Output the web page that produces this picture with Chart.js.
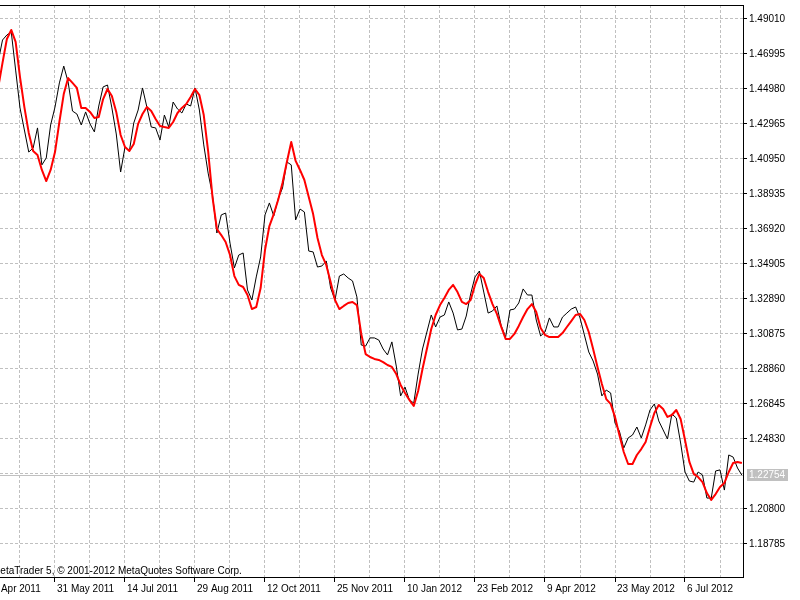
<!DOCTYPE html>
<html>
<head>
<meta charset="utf-8">
<style>
  html, body { margin: 0; padding: 0; background: #fff; }
  canvas { display: block; }
</style>
<script src="https://cdn.jsdelivr.net/npm/chart.js@4.4.1/dist/chart.umd.min.js"></script>
</head>
<body>
<canvas id="chart" width="800" height="600"></canvas>
<script>
// ---- data: daily bars, x = bar index (bar 0 sits on the first vertical grid line) ----
const FIRST_BAR = -10;
const BAR_STEP = 2;

// close price (black line), one value every 2 bars
const closePrices = [
  1.4654, 1.4780, 1.4809, 1.4826, 1.4607, 1.4389, 1.4262, 1.4135, 1.4158, 1.4274,
  1.4061, 1.4101, 1.4291, 1.4394, 1.4533, 1.4630, 1.4538, 1.4371, 1.4354, 1.4291,
  1.4366, 1.4297, 1.4251, 1.4400, 1.4510, 1.4521, 1.4389, 1.4239, 1.4020, 1.4164,
  1.4141, 1.4302, 1.4377, 1.4504, 1.4394, 1.4279, 1.4274, 1.4204, 1.4348, 1.4279,
  1.4423, 1.4383, 1.4360, 1.4412, 1.4400, 1.4504, 1.4377, 1.4176, 1.4014, 1.3888,
  1.3669, 1.3773, 1.3784, 1.3611, 1.3468, 1.3542, 1.3554, 1.3341, 1.3283, 1.3416,
  1.3531, 1.3773, 1.3842, 1.3767, 1.3865, 1.3928, 1.4078, 1.4061, 1.3744, 1.3807,
  1.3790, 1.3565, 1.3560, 1.3473, 1.3479, 1.3508, 1.3352, 1.3283, 1.3421, 1.3433,
  1.3410, 1.3393, 1.3301, 1.3024, 1.3018, 1.3065, 1.3065, 1.3053, 1.3001, 1.2967,
  1.3042, 1.2903, 1.2731, 1.2782, 1.2708, 1.2690, 1.2857, 1.3001, 1.3099, 1.3197,
  1.3128, 1.3185, 1.3197, 1.3272, 1.3208, 1.3111, 1.3116, 1.3191, 1.3318, 1.3416,
  1.3450, 1.3329, 1.3208, 1.3220, 1.3249, 1.3134, 1.3070, 1.3226, 1.3231, 1.3266,
  1.3347, 1.3312, 1.3312, 1.3168, 1.3076, 1.3099, 1.3180, 1.3128, 1.3128, 1.3185,
  1.3208, 1.3231, 1.3243, 1.3180, 1.3082, 1.2984, 1.2932, 1.2857, 1.2731, 1.2765,
  1.2748, 1.2575, 1.2529, 1.2431, 1.2489, 1.2506, 1.2552, 1.2489, 1.2564, 1.2650,
  1.2685, 1.2587, 1.2535, 1.2483, 1.2627, 1.2604, 1.2460, 1.2293, 1.2241, 1.2235,
  1.2293, 1.2276, 1.2143, 1.2143, 1.2299, 1.2305, 1.2189, 1.2391, 1.2379, 1.2316,
  1.2275
];

// moving average (red line), same bars
const maPrices = [
  1.4504, 1.4648, 1.4786, 1.4838, 1.4769, 1.4567, 1.4394, 1.4245, 1.4141, 1.4118,
  1.4032, 1.3968, 1.4032, 1.4135, 1.4308, 1.4469, 1.4561, 1.4533, 1.4504, 1.4389,
  1.4389, 1.4366, 1.4331, 1.4337, 1.4440, 1.4498, 1.4458, 1.4366, 1.4233, 1.4164,
  1.4141, 1.4181, 1.4297, 1.4354, 1.4394, 1.4371, 1.4325, 1.4285, 1.4279, 1.4274,
  1.4308, 1.4360, 1.4389, 1.4412, 1.4452, 1.4498, 1.4463, 1.4348, 1.4141, 1.3876,
  1.3692, 1.3657, 1.3617, 1.3542, 1.3421, 1.3370, 1.3358, 1.3312, 1.3231, 1.3243,
  1.3352, 1.3571, 1.3709, 1.3778, 1.3859, 1.3957, 1.4078, 1.4193, 1.4084, 1.4032,
  1.3974, 1.3876, 1.3778, 1.3640, 1.3542, 1.3485, 1.3387, 1.3283, 1.3231, 1.3249,
  1.3266, 1.3272, 1.3254, 1.3088, 1.2972, 1.2955, 1.2944, 1.2938, 1.2926, 1.2909,
  1.2898, 1.2857, 1.2794, 1.2748, 1.2708, 1.2673, 1.2759, 1.2886, 1.3001, 1.3116,
  1.3197, 1.3254, 1.3295, 1.3341, 1.3370, 1.3329, 1.3272, 1.3260, 1.3283, 1.3370,
  1.3433, 1.3410, 1.3329, 1.3260, 1.3203, 1.3128, 1.3059, 1.3059, 1.3088, 1.3134,
  1.3185, 1.3231, 1.3260, 1.3214, 1.3122, 1.3082, 1.3070, 1.3070, 1.3070, 1.3093,
  1.3128, 1.3162, 1.3197, 1.3203, 1.3168, 1.3099, 1.3001, 1.2898, 1.2800, 1.2713,
  1.2685, 1.2610, 1.2506, 1.2408, 1.2339, 1.2339, 1.2391, 1.2425, 1.2466, 1.2552,
  1.2633, 1.2679, 1.2656, 1.2610, 1.2621, 1.2650, 1.2598, 1.2477, 1.2351, 1.2282,
  1.2264, 1.2235, 1.2172, 1.2132, 1.2166, 1.2207, 1.2230, 1.2293, 1.2345, 1.2351,
  1.2345
];

const lastPrice = 1.22754;

const yTicks = [
  1.18785, 1.20800, 1.22815, 1.24830, 1.26845, 1.28860, 1.30875, 1.32890,
  1.34905, 1.36920, 1.38935, 1.40950, 1.42965, 1.44980, 1.46995, 1.49010
];

const xLabelBars = [-16, 16, 48, 80, 112, 144, 176, 208, 240, 272, 304];
const xLabels = [
  "15 Apr 2011", "31 May 2011", "14 Jul 2011", "29 Aug 2011", "12 Oct 2011",
  "25 Nov 2011", "10 Jan 2012", "23 Feb 2012", "9 Apr 2012", "23 May 2012", "6 Jul 2012"
];

const FONT = { family: "Liberation Sans", size: 10 };
const GRID_COLOR = "#c0c0c0";

function toPoints(values) {
  return values.map((v, i) => ({ x: FIRST_BAR + i * BAR_STEP, y: v }));
}

function hiddenLevel(v) {
  return Math.abs(v - lastPrice) < 0.001; // covered by the price tag
}

// MetaTrader look: top frame line, bid line, price tag, copyright text
const mtPlugin = {
  id: "mt5",
  beforeDatasetsDraw(chart) {
    const { ctx, chartArea: a, scales } = chart;
    const py = Math.round(scales.y.getPixelForValue(lastPrice)) + 0.5;
    ctx.save();
    ctx.strokeStyle = GRID_COLOR;
    ctx.lineWidth = 1;
    ctx.beginPath();
    ctx.moveTo(a.left, py);
    ctx.lineTo(a.right, py);
    ctx.stroke();

    ctx.fillStyle = "#000";
    ctx.font = '10px "Liberation Sans"';
    ctx.textBaseline = "alphabetic";
    ctx.textAlign = "left";
    ctx.fillText("MetaTrader 5, \u00a9 2001-2012 MetaQuotes Software Corp.", a.left - 8, a.bottom - 3.5);
    ctx.restore();
  },
  afterDraw(chart) {
    const { ctx, chartArea: a, scales } = chart;
    ctx.save();
    ctx.strokeStyle = "#000";
    ctx.lineWidth = 1;
    ctx.beginPath();
    ctx.moveTo(0, a.top + 0.5);
    ctx.lineTo(a.right + 1, a.top + 0.5);
    ctx.stroke();

    const py = Math.round(scales.y.getPixelForValue(lastPrice));
    ctx.fillStyle = "#c0c0c0";
    ctx.fillRect(a.right + 4, py - 6, 41, 12);
    ctx.fillStyle = "#fff";
    ctx.font = '10px "Liberation Sans"';
    ctx.textBaseline = "middle";
    ctx.fillText(lastPrice.toFixed(5), a.right + 6, py + 0.5);
    ctx.restore();
  },
};

const ctx = document.getElementById("chart").getContext("2d");

new Chart(ctx, {
  type: "line",
  data: {
    datasets: [
      {
        label: "MA",
        data: toPoints(maPrices),
        borderColor: "#ff0000",
        borderWidth: 2,
        borderJoinStyle: "round",
        pointRadius: 0,
        tension: 0,
      },
      {
        label: "Close",
        data: toPoints(closePrices),
        borderColor: "#000000",
        borderWidth: 1,
        pointRadius: 0,
        tension: 0,
      },
    ],
  },
  options: {
    responsive: false,
    animation: false,
    devicePixelRatio: 1,
    events: [],
    layout: { padding: { top: 5, left: 0, right: 0, bottom: 0 } },
    plugins: { legend: { display: false }, tooltip: { enabled: false } },
    scales: {
      x: {
        type: "linear",
        min: -20 / 2.1875,
        max: 723 / 2.1875,
        afterBuildTicks: (s) => {
          const t = [];
          for (let b = -16; b <= 320; b += 16) t.push({ value: b });
          s.ticks = t;
        },
        afterFit: (s) => {
          s.height = 23;
          s.paddingLeft = 0;
          s.paddingRight = 0;
        },
        grid: {
          color: GRID_COLOR,
          lineWidth: 1,
          tickLength: 5,
          tickColor: (c) => (c.tick && xLabelBars.includes(c.tick.value) ? "#000" : "rgba(0,0,0,0)"),
        },
        border: { display: true, color: "#000", width: 1, dash: [3, 2] },
        ticks: {
          autoSkip: false,
          maxRotation: 0,
          minRotation: 0,
          align: "start",
          labelOffset: 2,
          padding: 1,
          color: "#000",
          font: FONT,
          callback: (v) => {
            const i = xLabelBars.indexOf(v);
            return i >= 0 ? xLabels[i] : "";
          },
        },
      },
      y: {
        position: "right",
        min: 1.16885,
        max: 1.49816,
        afterBuildTicks: (s) => {
          s.ticks = yTicks.map((v) => ({ value: v }));
        },
        afterFit: (s) => {
          s.width = 57;
          s.paddingTop = 0;
          s.paddingBottom = 0;
        },
        grid: {
          color: GRID_COLOR,
          lineWidth: 1,
          tickLength: 4,
          tickColor: (c) => (c.tick && hiddenLevel(c.tick.value) ? "rgba(0,0,0,0)" : "#000"),
        },
        border: { display: true, color: "#000", width: 1, dash: [3, 2] },
        ticks: {
          padding: 2,
          color: "#000",
          font: FONT,
          callback: (v) => (hiddenLevel(v) ? "" : v.toFixed(5)),
        },
      },
    },
  },
  plugins: [mtPlugin],
});
</script>
</body>
</html>
